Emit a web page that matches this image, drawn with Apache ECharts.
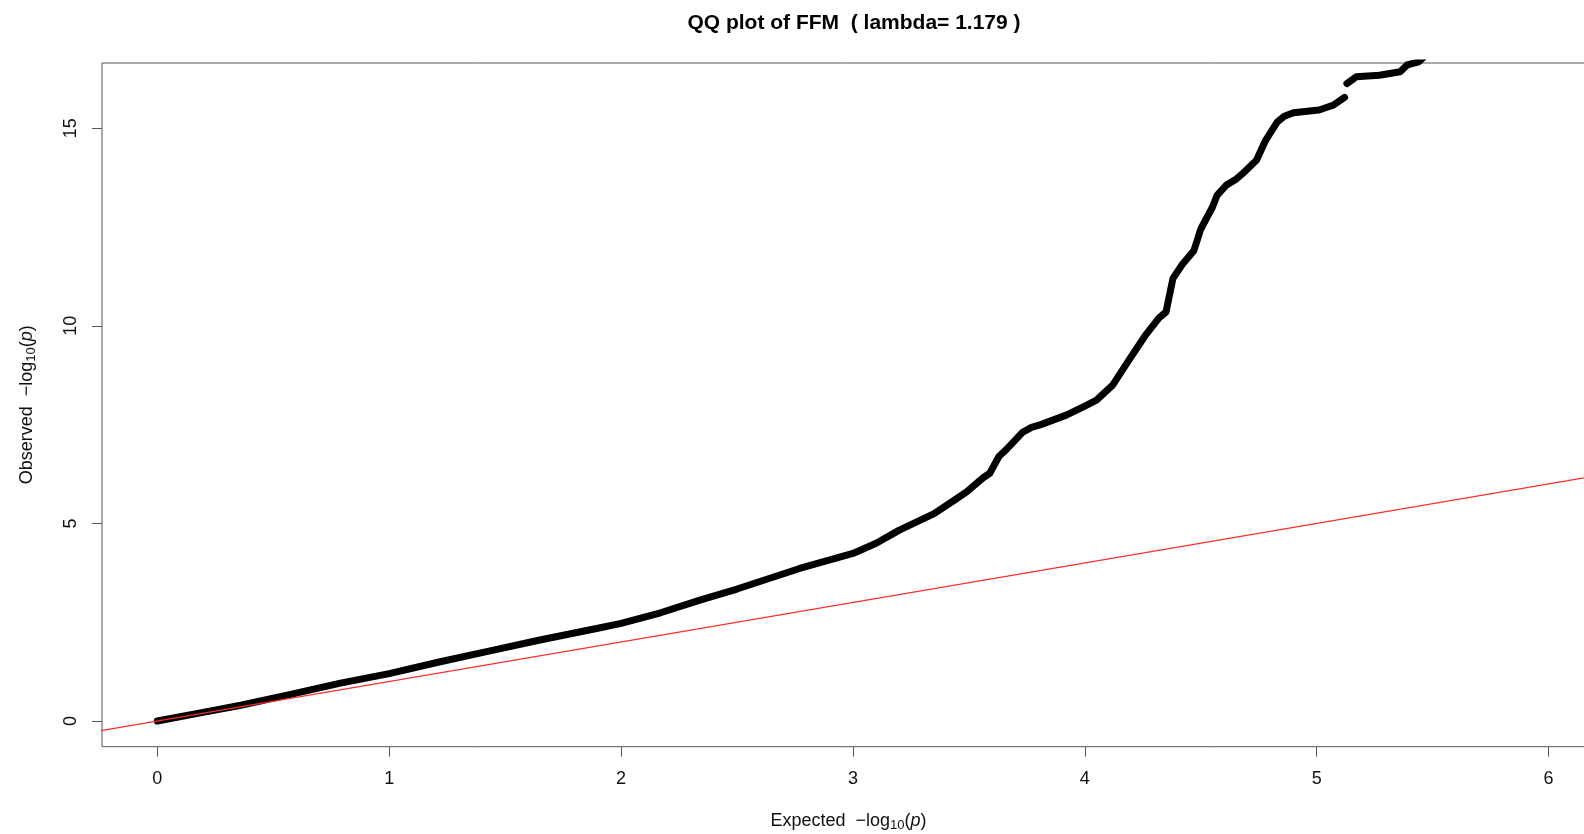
<!DOCTYPE html>
<html><head><meta charset="utf-8">
<script src="https://cdn.jsdelivr.net/npm/echarts@6/dist/echarts.min.js"></script>
<style>html,body{margin:0;padding:0;background:#fff}#c{width:1584px;height:834px}</style>
</head><body><div id="c"></div>
<script>
const titleText = 'QQ plot of FFM  ( lambda= 1.179 )';
const xTicks = [0, 1, 2, 3, 4, 5, 6];
const yTicks = [0, 5, 10, 15];
const expected = [0, 0.18, 0.36, 0.57, 0.79, 1.0, 1.22, 1.43, 1.65, 1.91, 2.0, 2.17, 2.34, 2.5, 2.77, 3.0, 3.1, 3.2, 3.35, 3.44, 3.49, 3.56, 3.59, 3.63, 3.66, 3.73, 3.77, 3.81, 3.92, 4.0, 4.05, 4.12, 4.19, 4.26, 4.32, 4.35, 4.38, 4.42, 4.47, 4.50, 4.55, 4.57, 4.61, 4.65, 4.68, 4.74, 4.78, 4.83, 4.86, 4.90, 5.01, 5.07, 5.12, 5.125, 5.13, 5.17, 5.27, 5.36, 5.39, 5.44, 5.48];
const observed = [0, 0.2, 0.40, 0.67, 0.96, 1.2, 1.50, 1.77, 2.05, 2.36, 2.47, 2.74, 3.06, 3.34, 3.86, 4.24, 4.5, 4.83, 5.25, 5.6, 5.80, 6.15, 6.27, 6.7, 6.86, 7.3, 7.43, 7.50, 7.74, 7.97, 8.12, 8.5, 9.13, 9.75, 10.2, 10.35, 11.2, 11.55, 11.9, 12.45, 13.0, 13.3, 13.56, 13.7, 13.85, 14.19, 14.7, 15.16, 15.3, 15.39, 15.46, 15.58, 15.78, null, 16.13, 16.30, 16.34, 16.43, 16.60, 16.68, 16.9];
const refLine = [-0.3, 6.3];

const chart = echarts.init(document.getElementById('c'));
const obsData = expected.map((x, i) => observed[i] === null ? [x, '-'] : [x, observed[i]]);
const txt = '#111';
const richName = {
  m: { fontSize: 18, color: txt, fontFamily: 'Liberation Sans' },
  sub: { fontSize: 13, color: txt, fontFamily: 'Liberation Sans', padding: [9, 0, 0, 0], verticalAlign: 'bottom' },
  it: { fontSize: 18, color: txt, fontFamily: 'Liberation Sans', fontStyle: 'italic' }
};
chart.setOption({
  animation: false,
  backgroundColor: '#fff',
  title: {
    text: titleText, left: 849, top: 8, textAlign: 'center',
    textStyle: { fontFamily: 'Liberation Sans', fontWeight: 'bold', fontSize: 21, color: '#000' }
  },
  grid: {
    left: 102, top: 63, right: -11, bottom: 87.3,
    show: true, borderColor: '#555', borderWidth: 1,
    outerBoundsMode: 'none', containLabel: false
  },
  xAxis: {
    type: 'value', min: -0.2385, max: 6.2,
    splitLine: { show: false },
    axisLine: { show: false, onZero: false },
    axisTick: { show: true, inside: false, length: 10, customValues: xTicks, lineStyle: { color: '#555' } },
    axisLabel: { customValues: xTicks, fontSize: 18, fontFamily: 'Liberation Sans', color: txt, margin: 23 },
    name: '{m|Expected  \u2212log}{sub|10}{m|(}{it|p}{m|)}',
    nameLocation: 'middle', nameGap: 63,
    nameTextStyle: { rich: richName }
  },
  yAxis: {
    type: 'value', min: -0.649, max: 16.65,
    splitLine: { show: false },
    axisLine: { show: false, onZero: false },
    axisTick: { show: true, inside: false, length: 10, customValues: yTicks, lineStyle: { color: '#555' } },
    axisLabel: { customValues: yTicks, fontSize: 18, fontFamily: 'Liberation Sans', color: txt, rotate: 90, margin: 22 },
    name: '{m|Observed  \u2212log}{sub|10}{m|(}{it|p}{m|)}',
    nameLocation: 'middle', nameRotate: 90, nameGap: 64,
    nameTextStyle: { rich: richName }
  },
  series: [
    {
      type: 'line', data: refLine.map(v => [v, v]), symbol: 'none', silent: true,
      lineStyle: { color: '#ff2a2a', width: 1.2 }, z: 3
    },
    {
      type: 'line', data: obsData, symbol: 'none', connectNulls: false, silent: true,
      lineStyle: { color: '#000', width: 7, cap: 'round', join: 'round' }, z: 2
    }
  ]
});
</script></body></html>
